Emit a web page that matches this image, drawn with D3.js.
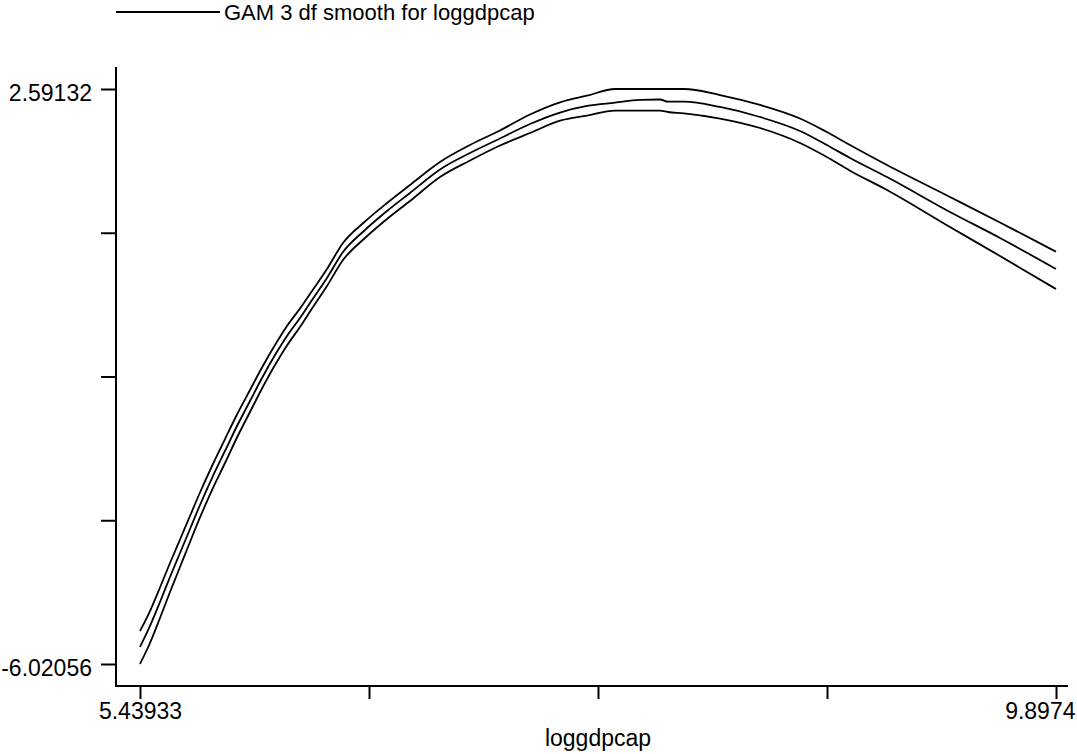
<!DOCTYPE html>
<html>
<head>
<meta charset="utf-8">
<script src="https://cdn.jsdelivr.net/npm/d3@7"></script>
<style>
  body { margin: 0; background: #fff; }
  svg text { font-family: "Liberation Sans", Arial, sans-serif; fill: #000; }
</style>
</head>
<body>
<svg width="1077" height="754"></svg>
<script>
// loggdpcap values where the smooth was evaluated
const loggdpcap = [5.43933, 5.48800, 5.53667, 5.58534, 5.63401, 5.68267, 5.73134, 5.78975,
  5.85302, 5.91142, 5.97469, 6.03309, 6.09636, 6.15476, 6.21803, 6.27644, 6.34944, 6.42731,
  6.53438, 6.64145, 6.75339, 6.89940, 7.04540, 7.19141, 7.33742, 7.48342, 7.61483, 7.75110,
  7.87278, 7.97011, 8.00905, 8.08692, 8.26213, 8.45680, 8.65148, 8.77315, 8.89482, 9.07490,
  9.38151, 9.62486, 9.89740];

// GAM 3 df smooth and its upper / lower band
const smooth = [-5.766, -5.451, -5.092, -4.718, -4.358, -3.999, -3.639, -3.235,
  -2.830, -2.456, -2.082, -1.737, -1.393, -1.108, -0.838, -0.569, -0.239, 0.150,
  0.480, 0.764, 1.034, 1.386, 1.633, 1.850, 2.067, 2.239, 2.337, 2.386,
  2.427, 2.434, 2.401, 2.401, 2.322, 2.172, 1.962, 1.768, 1.558, 1.273,
  0.749, 0.360, -0.105];
const upper = [-5.526, -5.227, -4.875, -4.508, -4.156, -3.804, -3.452, -3.055,
  -2.651, -2.284, -1.917, -1.580, -1.243, -0.958, -0.696, -0.434, -0.105, 0.285,
  0.607, 0.884, 1.154, 1.498, 1.753, 1.970, 2.209, 2.392, 2.491, 2.59132,
  2.59132, 2.59132, 2.59132, 2.59132, 2.501, 2.352, 2.149, 1.962, 1.753, 1.453,
  0.974, 0.592, 0.155];
const lower = [-6.02056, -5.706, -5.332, -4.942, -4.568, -4.193, -3.826, -3.415,
  -3.010, -2.628, -2.246, -1.894, -1.542, -1.250, -0.973, -0.696, -0.359, 0.030,
  0.360, 0.644, 0.914, 1.273, 1.520, 1.745, 1.932, 2.117, 2.194, 2.266,
  2.266, 2.266, 2.247, 2.227, 2.149, 2.007, 1.783, 1.588, 1.368, 1.079,
  0.524, 0.090, -0.404];

const xTicks = [5.43933, 6.55385, 7.66837, 8.78288, 9.8974];
const xTickLabels = ["5.43933", "", "", "", "9.8974"];
const yTicks = [-6.02056, -3.86759, -1.71462, 0.43835, 2.59132];
const yTickLabels = ["-6.02056", "", "", "", "2.59132"];
const legendLabel = "GAM 3 df smooth for loggdpcap";
const xTitle = "loggdpcap";

const W = 1077, H = 754;
const axisX = 116, axisY = 686;
const svg = d3.select("svg");

const x = d3.scaleLinear().domain([xTicks[0], xTicks[4]]).range([140, 1056]);
const y = d3.scaleLinear().domain([yTicks[0], yTicks[4]]).range([664, 89]);

// axis lines
svg.append("line").attr("x1", axisX).attr("x2", axisX).attr("y1", 67).attr("y2", axisY + 1)
  .attr("stroke", "#000").attr("stroke-width", 2);
svg.append("line").attr("x1", axisX - 1).attr("x2", 1068).attr("y1", axisY).attr("y2", axisY)
  .attr("stroke", "#000").attr("stroke-width", 2);

const yAxis = d3.axisLeft(y).tickValues(yTicks).tickSize(15).tickPadding(9)
  .tickFormat((d, i) => yTickLabels[i]);
const gy = svg.append("g").attr("transform", "translate(" + axisX + ",0)").call(yAxis);
gy.select(".domain").remove();
gy.selectAll(".tick line").attr("stroke", "#000").attr("stroke-width", 2);
gy.selectAll(".tick text").attr("font-size", 23).attr("dy", "0.5em");

const xAxis = d3.axisBottom(x).tickValues(xTicks).tickSize(13).tickPadding(4)
  .tickFormat((d, i) => xTickLabels[i]);
const gx = svg.append("g").attr("transform", "translate(0," + axisY + ")").call(xAxis);
gx.select(".domain").remove();
gx.selectAll(".tick line").attr("stroke", "#000").attr("stroke-width", 2);
gx.selectAll(".tick text").attr("font-size", 23)
  .each(function(d) {
    // keep the last label inside the window
    const t = d3.select(this);
    const w = this.getComputedTextLength();
    if (x(d) + w / 2 > W - 2) t.attr("text-anchor", "end").attr("x", W - 2 - x(d));
  });

svg.append("text").attr("x", (x.range()[0] + x.range()[1]) / 2).attr("y", 746)
  .attr("text-anchor", "middle").attr("font-size", 23).text(xTitle);

// curves
const line = d3.line().curve(d3.curveMonotoneX)
  .x((d, i) => x(loggdpcap[i])).y(d => y(d));
[upper, smooth, lower].forEach(s => {
  svg.append("path").datum(s).attr("d", line)
    .attr("fill", "none").attr("stroke", "#000").attr("stroke-width", 1.8)
    .attr("stroke-linejoin", "round");
});

// legend
svg.append("line").attr("x1", 116).attr("x2", 220).attr("y1", 12).attr("y2", 12)
  .attr("stroke", "#000").attr("stroke-width", 2);
svg.append("text").attr("x", 224).attr("y", 20).attr("font-size", 22).text(legendLabel);
</script>
</body>
</html>
